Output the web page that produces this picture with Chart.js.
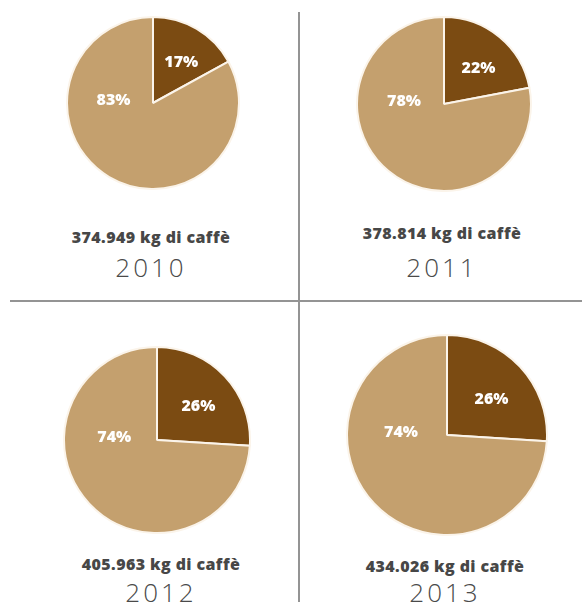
<!DOCTYPE html>
<html lang="it">
<head>
    <meta charset="UTF-8">
    <title>Caffè 2010-2013</title>
    <script src="https://cdn.jsdelivr.net/npm/chart.js@4.4.1/dist/chart.umd.min.js"></script>
    <style>
        body, html {
            margin: 0;
            padding: 0;
            background: #fff;
        }
        #board {
            position: relative;
            width: 585px;
            height: 612px;
            overflow: hidden;
        }
        .pie {
            position: absolute;
        }
        .kg {
            position: absolute;
            width: 260px;
            text-align: center;
            font-family: "Open Sans", sans-serif;
            font-weight: 800;
            font-size: 16px;
            color: #474747;
            letter-spacing: 0.4px;
        }
        .year {
            position: absolute;
            width: 200px;
            text-align: center;
            font-family: "Open Sans", sans-serif;
            font-weight: 300;
            font-size: 26px;
            color: #4a4a4a;
            letter-spacing: 3px;
        }
        .vline {
            position: absolute;
            left: 298px;
            top: 12px;
            width: 2px;
            height: 590px;
            background: #949494;
        }
        .hline {
            position: absolute;
            left: 10px;
            top: 300px;
            width: 572px;
            height: 2px;
            background: #949494;
        }
    </style>
</head>
<body>
<div id="board">
    <div class="vline"></div>
    <div class="hline"></div>
</div>

<script>
    // dati: anno, kg di caffè, quote percentuali
    const years = ['2010', '2011', '2012', '2013'];
    const coffeeKg = [374949, 378814, 405963, 434026];
    const darkShare = [17, 22, 26, 26];
    const lightShare = [83, 78, 74, 74];

    const darkColor = '#7b4b12';
    const lightColor = '#c4a06e';

    // impaginazione dei quattro riquadri
    const pieCenters = [[153, 103], [444, 104], [157, 440], [447, 435]];
    const kgTextY = [226, 222, 553, 555];
    const kgTextX = [151, 442, 161, 445];
    const yearTextY = [249, 249, 574, 574];
    const baseRadius = 86; // raggio per il 2010, gli altri in proporzione ai kg
    const border = 2;

    function formatKg(n) {
        return String(n).replace(/\B(?=(\d{3})+(?!\d))/g, '.');
    }

    // etichette percentuali bianche dentro le fette
    const pctLabels = {
        id: 'pctLabels',
        afterDatasetsDraw(chart) {
            const ctx = chart.ctx;
            const values = chart.data.datasets[0].data;
            const arcs = chart.getDatasetMeta(0).data;
            ctx.save();
            ctx.fillStyle = '#ffffff';
            ctx.font = '800 16px "Open Sans", sans-serif';
            ctx.textAlign = 'center';
            ctx.textBaseline = 'middle';
            arcs.forEach((arc, i) => {
                const p = arc.getProps(['x', 'y', 'startAngle', 'endAngle', 'outerRadius'], true);
                let ang, dist;
                if (i === 0) {
                    ang = (p.startAngle + p.endAngle) / 2 + 0.08;
                    dist = p.outerRadius * 0.57;
                } else {
                    ang = Math.PI + 0.06;
                    dist = p.outerRadius * 0.46;
                }
                ctx.fillText(values[i] + '%', p.x + Math.cos(ang) * dist, p.y + Math.sin(ang) * dist);
            });
            ctx.restore();
        }
    };

    const board = document.getElementById('board');

    years.forEach((year, i) => {
        const r = Math.round(baseRadius * coffeeKg[i] / coffeeKg[0]);
        const size = 2 * r + border;
        const [cx, cy] = pieCenters[i];

        const canvas = document.createElement('canvas');
        canvas.className = 'pie';
        canvas.width = size;
        canvas.height = size;
        canvas.style.left = (cx - size / 2) + 'px';
        canvas.style.top = (cy - size / 2) + 'px';
        canvas.style.width = size + 'px';
        canvas.style.height = size + 'px';
        board.appendChild(canvas);

        new Chart(canvas.getContext('2d'), {
            type: 'pie',
            data: {
                labels: ['quota', 'resto'],
                datasets: [{
                    data: [darkShare[i], lightShare[i]],
                    backgroundColor: [darkColor, lightColor],
                    borderColor: '#fbf4ea',
                    borderWidth: border
                }]
            },
            options: {
                responsive: false,
                animation: false,
                layout: { padding: 0 },
                plugins: {
                    legend: { display: false },
                    tooltip: { enabled: false }
                }
            },
            plugins: [pctLabels]
        });

        const kg = document.createElement('div');
        kg.className = 'kg';
        kg.textContent = formatKg(coffeeKg[i]) + ' kg di caffè';
        kg.style.left = (kgTextX[i] - 130) + 'px';
        kg.style.top = kgTextY[i] + 'px';
        board.appendChild(kg);

        const y = document.createElement('div');
        y.className = 'year';
        y.textContent = year;
        y.style.left = (kgTextX[i] - 100) + 'px';
        y.style.top = yearTextY[i] + 'px';
        board.appendChild(y);
    });
</script>
</body>
</html>
